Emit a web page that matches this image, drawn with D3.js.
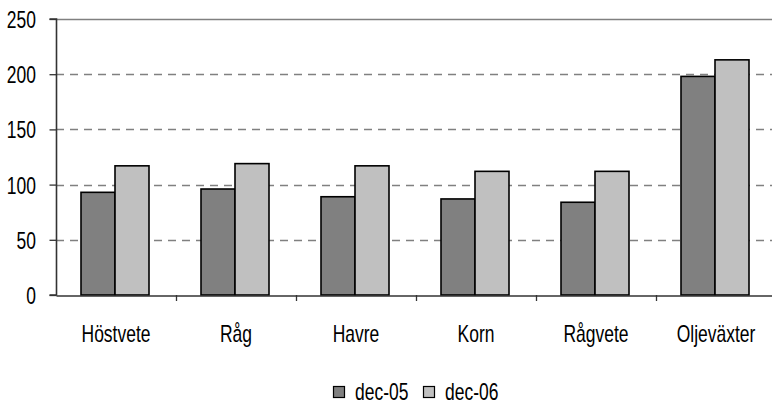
<!DOCTYPE html>
<html>
<head>
<meta charset="utf-8">
<script src="https://cdn.jsdelivr.net/npm/d3@7"></script>
<style>
  html, body { margin: 0; padding: 0; background: #fff; }
  svg { display: block; }
  text { font-family: "Liberation Sans", Arial, sans-serif; fill: #000; }
</style>
</head>
<body>
<svg id="chart" width="772" height="405"></svg>
<script>
// Index values per crop, December 2005 vs December 2006
const categories = ["Höstvete", "Råg", "Havre", "Korn", "Rågvete", "Oljeväxter"];
const seriesNames = ["dec-05", "dec-06"];
const dec05 = [93, 96, 89, 87, 84, 198];
const dec06 = [117, 119, 117, 112, 112, 213];
const yTicks = [0, 50, 100, 150, 200, 250];
const colors = ["#808080", "#c0c0c0"];

const svg = d3.select("#chart");
const plotLeft = 56, plotTop = 19, plotRight = 776, plotBottom = 295;
const FONT = 23, NARROW = 0.76;   // narrow lettering: regular face squeezed horizontally

const x = d3.scaleBand().domain(categories).range([plotLeft, plotRight]);
const x1 = d3.scaleBand().domain(seriesNames).range([0, 68]);
const y = d3.scaleLinear().domain([0, 250]).range([plotBottom, plotTop]);

// draws narrow text anchored at (px, py)
function narrowText(sel, px, py, str, anchor) {
  return sel.append("text")
    .attr("transform", `translate(${px},${py}) scale(${NARROW},1)`)
    .attr("text-anchor", anchor)
    .style("font-size", FONT + "px")
    .text(str);
}

// horizontal gridlines
svg.append("g").selectAll("line")
  .data(yTicks.filter(d => d > 0))
  .join("line")
  .attr("x1", plotLeft).attr("x2", plotRight)
  .attr("y1", d => Math.round(y(d)) + 0.5).attr("y2", d => Math.round(y(d)) + 0.5)
  .attr("stroke", "#808080").attr("stroke-width", 1.3)
  .attr("stroke-dasharray", d => d === 250 ? null : "8,6");

// bars
const data = categories.map((c, i) => ({ c, vals: [dec05[i], dec06[i]] }));
const groups = svg.append("g").selectAll("g")
  .data(data).join("g")
  .attr("transform", d => `translate(${x(d.c) + x.bandwidth() / 2 - 35},0)`);
groups.selectAll("rect")
  .data(d => d.vals.map((v, j) => ({ v, s: seriesNames[j], j })))
  .join("rect")
  .attr("x", d => x1(d.s))
  .attr("width", x1.bandwidth())
  .attr("y", d => y(d.v))
  .attr("height", d => y(0) - y(d.v))
  .attr("fill", d => colors[d.j])
  .attr("stroke", "#000").attr("stroke-width", 1.6);

// y axis
const yAxis = d3.axisLeft(y).tickValues(yTicks).tickSize(7).tickFormat("");
const gy = svg.append("g").attr("transform", `translate(${plotLeft + 0.5},0)`).call(yAxis);
gy.select(".domain").attr("stroke", "#333").attr("stroke-width", 1.6).attr("d", `M-7,${y(250)}H0V${y(0)}H-7`);
gy.selectAll(".tick line").attr("stroke", "#333").attr("stroke-width", 1.3);
gy.selectAll(".tick").each(function (d) {
  narrowText(d3.select(this), -20.5, 8.5, d, "end");
});

// x axis
const xAxis = d3.axisBottom(x).tickSize(0).tickFormat("");
const gx = svg.append("g").attr("transform", `translate(0,${plotBottom + 0.5})`).call(xAxis);
gx.select(".domain").attr("stroke", "#333").attr("stroke-width", 1.3);
gx.selectAll(".tick").each(function (d) {
  narrowText(d3.select(this), 0, 46, d, "middle");
});
// category separators
svg.append("g").selectAll("line")
  .data(categories.slice(1))
  .join("line")
  .attr("x1", d => Math.round(x(d)) + 0.5).attr("x2", d => Math.round(x(d)) + 0.5)
  .attr("y1", plotBottom).attr("y2", plotBottom + 6)
  .attr("stroke", "#333").attr("stroke-width", 1.3);

// legend
const legend = svg.append("g").attr("transform", "translate(333,386)");
const items = legend.selectAll("g").data(seriesNames).join("g")
  .attr("transform", (d, i) => `translate(${i * 90},0)`);
items.append("rect").attr("x", 0.5).attr("y", 0.5).attr("width", 11).attr("height", 11)
  .attr("fill", (d, i) => colors[i]).attr("stroke", "#000").attr("stroke-width", 1.2);
items.each(function (d) {
  narrowText(d3.select(this), 22, 14, d, "start");
});
</script>
</body>
</html>
